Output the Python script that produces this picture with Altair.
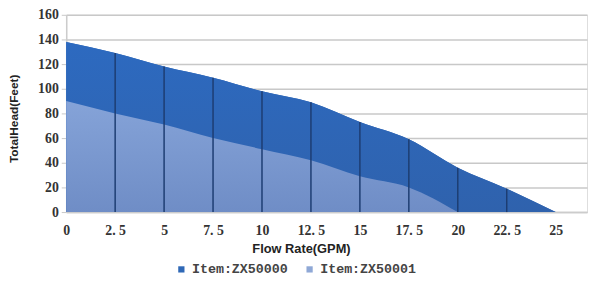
import altair as alt
import pandas as pd

flow = [0, 2.5, 5, 7.5, 10, 12.5, 15, 17.5, 20, 22.5, 25]
head_zx50000 = [138, 129, 118, 109, 98, 89, 73, 59, 36, 19, 0]
flow_b = [0, 2.5, 5, 7.5, 10, 12.5, 15, 17.5, 20]
head_zx50001 = [90, 80, 71, 60, 51, 42, 29, 20, 0]
series_names = ["Item:ZX50000", "Item:ZX50001"]
x_ticks = [0, 2.5, 5, 7.5, 10, 12.5, 15, 17.5, 20, 22.5, 25]
y_ticks = [0, 20, 40, 60, 80, 100, 120, 140, 160]

dfa = pd.DataFrame({"flow": flow, "head": head_zx50000, "series": series_names[0]})
dfb = pd.DataFrame({"flow": flow_b, "head": head_zx50001, "series": series_names[1]})
df = pd.concat([dfa, dfb], ignore_index=True)
drops = dfa[(dfa["flow"] > 0) & (dfa["head"] > 0)]

xs = alt.Scale(domain=[0, 26.6], nice=False, zero=False)
ys = alt.Scale(domain=[0, 160], nice=False)

xaxis = alt.Axis(values=x_ticks, title="Flow Rate(GPM)", grid=False, ticks=False,
                 labelExpr="replace(format(datum.value, '~g'), '.', '. ')",
                 labelFont="Liberation Serif", labelFontWeight="bold", labelFontSize=14,
                 labelColor="#333333", labelPadding=12, labelFlush=False, labelOverlap=False,
                 domainColor="#cccccc", domainWidth=1.5,
                 titleFont="Liberation Sans", titleFontWeight="bold",
                 titleFontSize=13, titleColor="#222222", titleX=238, titleY=31)
yaxis = alt.Axis(values=y_ticks, title="TotalHead(Feet)", grid=True, gridColor="#c8c8c8",
                 gridWidth=1.5, tickColor="#c8c8c8", tickSize=5, labelOverlap=False,
                 labelFont="Liberation Serif", labelFontWeight="bold", labelFontSize=14,
                 labelColor="#333333", labelPadding=3, labelFlush=False,
                 domainColor="#cccccc", domainWidth=1.5,
                 titleFont="Liberation Sans", titleFontWeight="bold",
                 titleFontSize=12, titleColor="#222222", titleX=-46, titleY=105)

X = alt.X("flow:Q", scale=xs, axis=xaxis)
Y = alt.Y("head:Q", scale=ys, axis=yaxis, stack=None)

legend_base = alt.Chart(df).mark_area(interpolate="monotone").encode(
    x=X, y=Y,
    color=alt.Color("series:N", scale=alt.Scale(domain=series_names, range=["#2f68b6", "#8fa8d6"]),
                    legend=alt.Legend(orient="none", direction="horizontal", legendX=110, legendY=251,
                                      title=None, symbolType="square", symbolSize=40,
                                      labelFont="Liberation Mono", labelFontWeight="bold",
                                      labelFontSize=13.5, labelColor="#444444",
                                      columnPadding=15, symbolOpacity=1)),
    order=alt.Order("series:N"),
)

grad_dark = alt.Gradient(gradient="linear", x1=0, y1=0, x2=0, y2=1,
                         stops=[alt.GradientStop(color="#2d6ac0", offset=0),
                                alt.GradientStop(color="#2f62ad", offset=1)])
grad_light = alt.Gradient(gradient="linear", x1=0, y1=0, x2=0, y2=1,
                          stops=[alt.GradientStop(color="#85a3d8", offset=0),
                                 alt.GradientStop(color="#6f8dc6", offset=1)])

area_a = alt.Chart(dfa).mark_area(interpolate="monotone", fill=grad_dark).encode(x=X, y=Y)
area_b = alt.Chart(dfb).mark_area(interpolate="monotone", fill=grad_light).encode(x=X, y=Y)

rules = alt.Chart(drops).mark_rule(color="#1d3d72", strokeWidth=1.5).encode(
    x=X, y=alt.Y("head:Q", scale=ys, axis=yaxis), y2=alt.datum(0))

chart = alt.layer(legend_base, area_a, area_b, rules).properties(
    width=528, height=200,
    autosize=alt.AutoSizeParams(type="none"),
    padding={"left": 59, "top": 5, "right": 1, "bottom": 68},
).configure_view(stroke=None).configure(background="white")

chart.save("out.html", embed_options={"renderer": "svg", "actions": False})
